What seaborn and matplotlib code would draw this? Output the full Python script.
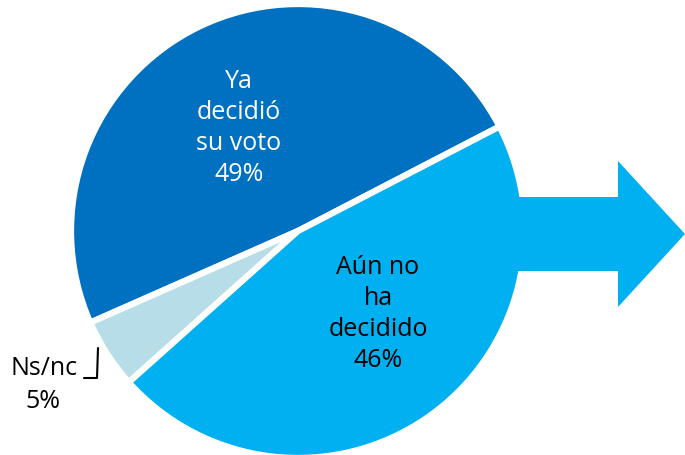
import matplotlib
matplotlib.use('Agg')
import matplotlib.pyplot as plt
import seaborn as sns

# data
labels = ['Ya\ndecidió\nsu voto', 'Ns/nc', 'Aún no\nha\ndecidido']
values = [49, 5, 46]
colors = ['#0070C0', '#B7DEE8', '#00B0F0']

sns.set_theme(style='white')
plt.rcParams['font.family'] = ['Open Sans', 'DejaVu Sans']

W, H = 685, 456
fig = plt.figure(figsize=(W / 100, H / 100), dpi=100)
ax = fig.add_axes([0, 0, 1, 1])

def py(y):
    # convert top-down pixel y to data y
    return H - y

cx, cy, r = 298, 232, 227
ax.pie(values, colors=colors, startangle=27.4, counterclock=True,
       center=(cx, py(cy)), radius=r, frame=True,
       wedgeprops=dict(edgecolor='white', linewidth=4.5, zorder=2))
ax.set_xlim(0, W)
ax.set_ylim(0, H)
ax.set_aspect('equal')
ax.axis('off')

# arrow on top, its shaft starts inside the light blue slice
arrow_x = [490, 618, 618, 685, 618, 618, 490]
arrow_y = [198, 198, 162, 235, 308, 272, 272]
ax.fill(arrow_x, [py(v) for v in arrow_y], color='#00B0F0', zorder=3, lw=0)

fs = 18
ax.text(239, py(128), f'{labels[0]}\n{values[0]}%', color='white', fontsize=fs,
        ha='center', va='center', linespacing=1.32, zorder=5)
ax.text(378, py(314), f'{labels[2]}\n{values[2]}%', color='black', fontsize=fs,
        ha='center', va='center', linespacing=1.32, zorder=5)
ax.text(44, py(369), labels[1], color='black', fontsize=fs, ha='center', va='center', zorder=5)
ax.text(43, py(402), f'{values[1]}%', color='black', fontsize=fs, ha='center', va='center', zorder=5)
ax.plot([84, 97, 98], [py(379), py(379), py(349)], color='black', lw=1.5, zorder=5)

fig.savefig('out.png', dpi=100)
